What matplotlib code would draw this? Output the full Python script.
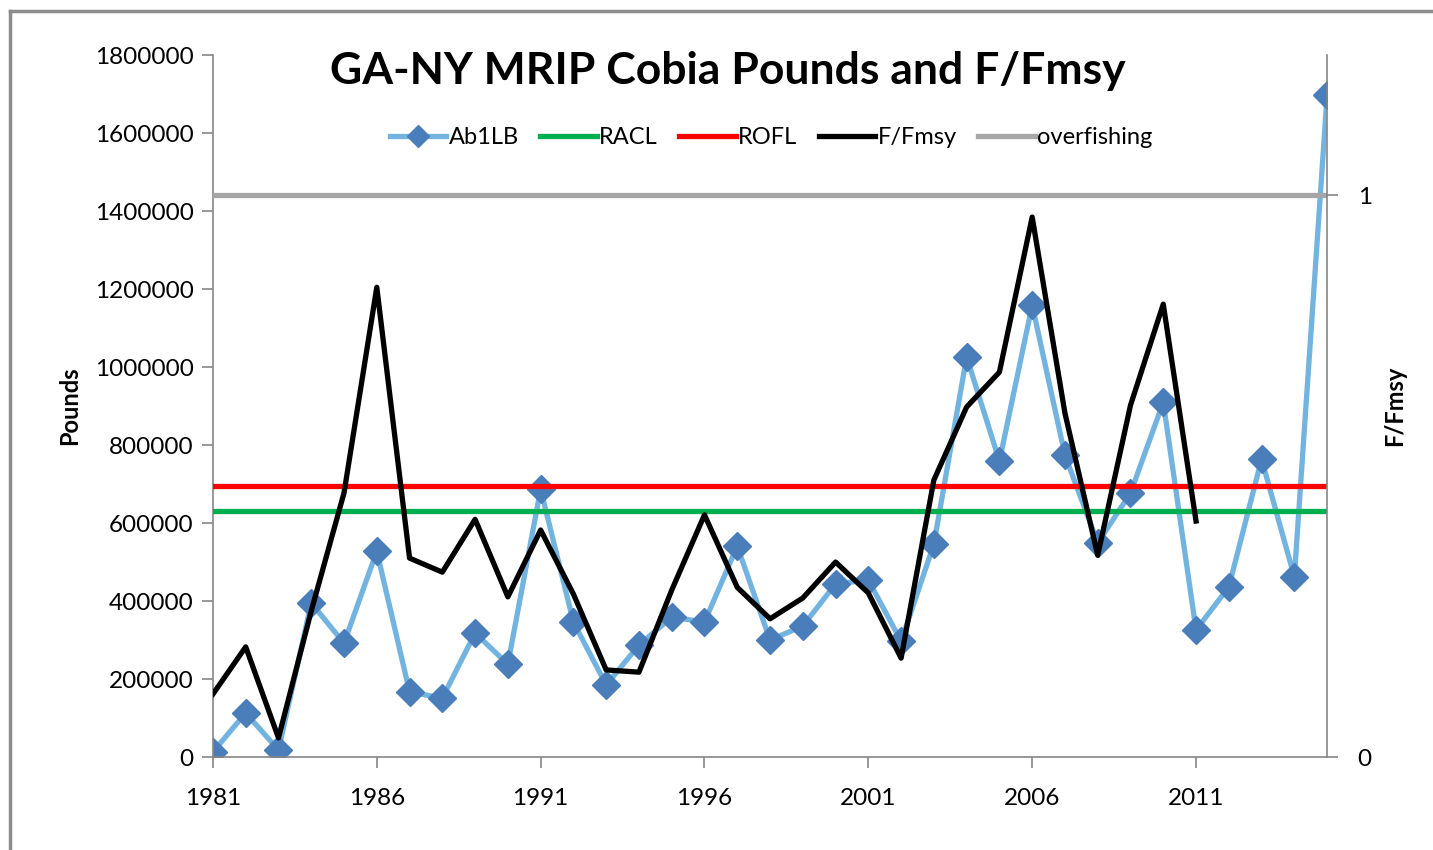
import numpy as np
import matplotlib
matplotlib.use("Agg")
import matplotlib.pyplot as plt
from matplotlib.lines import Line2D

plt.rcParams['font.family'] = ['Lato', 'DejaVu Sans']

years = list(range(1981, 2016))
ab1lb = [13000, 113000, 18000, 395000, 292000, 528000, 167000, 151000, 318000, 238000,
         687000, 346000, 185000, 287000, 359000, 346000, 541000, 300000, 336000, 444000,
         454000, 297000, 546000, 1026000, 759000, 1159000, 774000, 549000, 677000, 910000,
         326000, 436000, 764000, 462000, 1697000]
racl = 630000
rofl = 695000

f_years = list(range(1981, 2012))
f_fmsy = [0.112, 0.196, 0.034, 0.26, 0.470, 0.836, 0.354, 0.329, 0.423, 0.285,
          0.404, 0.290, 0.155, 0.151, 0.297, 0.431, 0.302, 0.246, 0.283, 0.347,
          0.292, 0.176, 0.493, 0.623, 0.685, 0.961, 0.612, 0.359, 0.626, 0.806,
          0.420]
overfishing = 1.0

xticks = [1981, 1986, 1991, 1996, 2001, 2006, 2011]

fig = plt.figure(figsize=(14.33, 8.5), dpi=100)
ax = fig.add_axes([0.1486, 0.1094, 0.7775, 0.8256])
ax2 = ax.twinx()

# --- left axis: pounds ---
ax.plot(years, ab1lb, color='#72B3E0', lw=3.8, marker='D', ms=14,
        mfc='#4A7EBB', mec='#4A7EBB', zorder=2)
ax.plot(years, [racl] * len(years), color='#00B050', lw=3.8, zorder=3)
ax.plot(years, [rofl] * len(years), color='#FF0000', lw=3.8, zorder=3)

# --- right axis: F/Fmsy ---
ax2.plot(years, [overfishing] * len(years), color='#A6A6A6', lw=3.8)
ax2.plot(f_years, f_fmsy, color='black', lw=3.8)

ax.set_xlim(1981, 2015)
ax.set_ylim(0, 1800000)
ax2.set_ylim(0, 1.249)
ax.set_xticks(xticks)
ax.set_yticks(range(0, 1800001, 200000))
ax2.set_yticks([0, 1])
ax.set_xticklabels([str(x) for x in xticks])
ax.set_yticklabels([str(v) for v in range(0, 1800001, 200000)])
ax2.set_yticklabels(['0', '1'])

for a in (ax, ax2):
    for s in a.spines.values():
        s.set_visible(False)
    a.tick_params(labelsize=17.5, color='#868686', length=8, width=1.2)
ax.spines['left'].set_visible(True)
ax.spines['bottom'].set_visible(True)
ax2.spines['right'].set_visible(True)
for s in (ax.spines['left'], ax.spines['bottom'], ax2.spines['right']):
    s.set_color('#868686')
    s.set_linewidth(1.2)
ax.tick_params(axis='x', pad=14)
ax.tick_params(axis='y', pad=6)
ax2.tick_params(axis='y', pad=14)

ax.set_ylabel('Pounds', fontsize=17, fontweight='bold', labelpad=10)
ax2.set_ylabel('F/Fmsy', fontsize=17, fontweight='bold', rotation=90, labelpad=8)

fig.text(0.508, 0.917, 'GA-NY MRIP Cobia Pounds and F/Fmsy', ha='center', va='center',
         fontsize=32, fontweight='bold')

handles = [
    Line2D([], [], color='#72B3E0', lw=3.8, marker='D', ms=11, mfc='#4A7EBB', mec='#4A7EBB'),
    Line2D([], [], color='#00B050', lw=3.8),
    Line2D([], [], color='#FF0000', lw=3.8),
    Line2D([], [], color='black', lw=3.8),
    Line2D([], [], color='#A6A6A6', lw=3.8),
]
labels = ['Ab1LB', 'RACL', 'ROFL', 'F/Fmsy', 'overfishing']
fig.legend(handles, labels, loc='center', bbox_to_anchor=(0.538, 0.838), ncol=5,
           frameon=False, fontsize=17, handlelength=2.4, handletextpad=0.1,
           columnspacing=0.9)

# chart area border
fig.add_artist(Line2D([0.007, 0.007], [0, 0.987], color='#8C8C8C', lw=2.5))
fig.add_artist(Line2D([0.007, 1.0], [0.987, 0.987], color='#8C8C8C', lw=2.5))

fig.savefig('out.png', dpi=100)
